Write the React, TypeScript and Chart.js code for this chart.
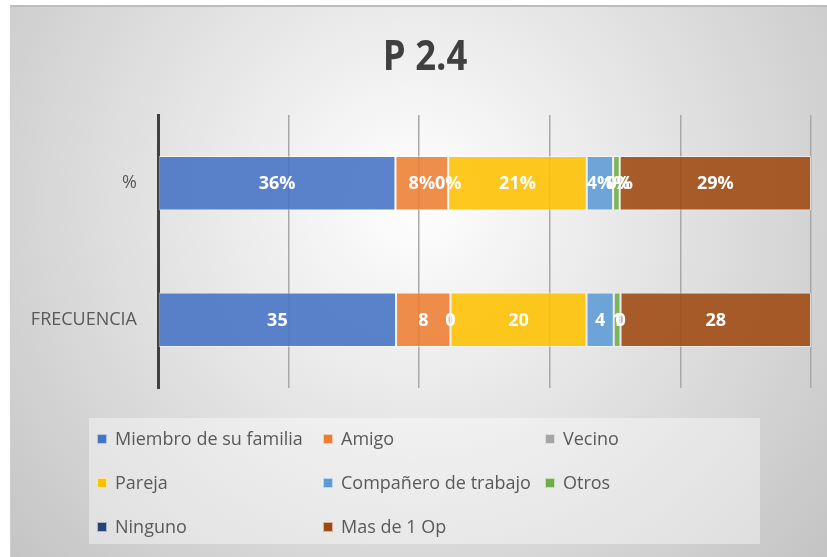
import React, { useEffect, useRef } from "react";
import { Chart, registerables } from "chart.js";

Chart.register(...registerables);

const TITLE = "P 2.4";
const categories = ["%", "FRECUENCIA"];
const seriesNames = [
  "Miembro de su familia",
  "Amigo",
  "Vecino",
  "Pareja",
  "Compañero de trabajo",
  "Otros",
  "Ninguno",
  "Mas de 1 Op",
];
const pctValues = [36, 8, 0, 21, 4, 1, 0, 29];
const freqValues = [35, 8, 0, 20, 4, 1, 0, 28];
const seriesColors = [
  "#4472C4",
  "#ED7D31",
  "#A5A5A5",
  "#FFC000",
  "#5B9BD5",
  "#70AD47",
  "#264478",
  "#9E480E",
];

const rows = [pctValues, freqValues];
const rowSums = rows.map((r) => r.reduce((a, b) => a + b, 0));

function hexToRgba(hex: string, a: number) {
  const n = parseInt(hex.slice(1), 16);
  return `rgba(${(n >> 16) & 255},${(n >> 8) & 255},${n & 255},${a})`;
}

const bgPlugin = {
  id: "bgFrame",
  beforeDraw(chart: any) {
    const { ctx, width, height } = chart;
    ctx.save();
    ctx.fillStyle = "#ffffff";
    ctx.fillRect(0, 0, width, height);
    const g = ctx.createRadialGradient(414, 200, 0, 414, 200, 560);
    g.addColorStop(0, "#ffffff");
    g.addColorStop(1, "#c2c2c2");
    ctx.fillStyle = g;
    ctx.fillRect(10, 5, width - 10, height - 5);
    ctx.fillStyle = "#bdbdbd";
    ctx.fillRect(10, 5, width - 10, 2);
    ctx.fillStyle = "#cfcfcf";
    ctx.fillRect(10, 5, 1, height - 5);
    // legend box
    ctx.fillStyle = "rgba(255,255,255,0.4)";
    ctx.fillRect(89, 418, 671, 126);
    ctx.restore();
  },
  afterDraw(chart: any) {
    const { ctx } = chart;
    ctx.save();
    // title
    ctx.fillStyle = "#404040";
    ctx.font = "bold 41px 'Liberation Sans Narrow', 'Open Sans', sans-serif";
    ctx.textAlign = "center";
    ctx.textBaseline = "alphabetic";
    ctx.translate(425, 70);
    ctx.scale(0.89, 1);
    ctx.fillText(TITLE, 0, 0);
    ctx.restore();
    ctx.save();
    // legend
    const colX = [97, 323, 545];
    const rowY = [439, 483, 527];
    ctx.font = "18px 'Open Sans', sans-serif";
    ctx.textAlign = "left";
    ctx.textBaseline = "middle";
    seriesNames.forEach((name, i) => {
      const cx = colX[i % 3];
      const cy = rowY[Math.floor(i / 3)];
      ctx.fillStyle = seriesColors[i];
      ctx.fillRect(cx, cy - 5, 10, 10);
      ctx.strokeStyle = "rgba(255,255,255,0.6)";
      ctx.lineWidth = 1;
      ctx.strokeRect(cx + 0.5, cy - 4.5, 9, 9);
      ctx.fillStyle = "#595959";
      ctx.fillText(name, cx + 18, cy + 1);
    });
    ctx.restore();
  },
};

const labelPlugin = {
  id: "segLabels",
  afterDatasetsDraw(chart: any) {
    const { ctx } = chart;
    ctx.save();
    ctx.font = "bold 18px 'Open Sans', sans-serif";
    ctx.fillStyle = "#ffffff";
    ctx.textAlign = "center";
    ctx.textBaseline = "middle";
    chart.data.datasets.forEach((ds: any, di: number) => {
      const meta = chart.getDatasetMeta(di);
      meta.data.forEach((el: any, ri: number) => {
        const raw = rows[ri][di];
        const txt = ri === 0 ? `${raw}%` : `${raw}`;
        const p = el.getCenterPoint();
        ctx.fillText(txt, p.x, p.y + 1);
      });
    });
    ctx.restore();
  },
};

export default function App() {
  const ref = useRef<HTMLCanvasElement | null>(null);
  useEffect(() => {
    if (!ref.current) return;
    const datasets = seriesNames.map((name, si) => ({
      label: name,
      data: rows.map((r, ri) => (r[si] / rowSums[ri]) * 100),
      backgroundColor: hexToRgba(seriesColors[si], 0.88),
      borderColor: "rgba(255,255,255,0.55)",
      borderWidth: 1,
      borderSkipped: false,
      barPercentage: 0.4,
      categoryPercentage: 1,
    }));
    const chart = new Chart(ref.current, {
      type: "bar",
      data: { labels: categories, datasets },
      options: {
        indexAxis: "y",
        animation: false,
        responsive: false,
        devicePixelRatio: 1,
        layout: { padding: { left: 0, top: 115, right: 16, bottom: 169 } },
        plugins: {
          legend: { display: false },
          title: { display: false },
          tooltip: { enabled: false },
        },
        scales: {
          x: {
            stacked: true,
            min: 0,
            max: 100,
            ticks: { display: false, stepSize: 20 },
            grid: { color: "#a8a8a8", lineWidth: 1.5, drawTicks: false },
            border: { display: false },
            afterFit: (s: any) => {
              s.height = 0;
            },
          },
          y: {
            stacked: true,
            grid: { display: false, drawTicks: false },
            border: { display: true, color: "#404040", width: 3 },
            ticks: {
              color: "#595959",
              font: { family: "'Open Sans', sans-serif", size: 18 },
              padding: 21,
            },
            afterFit: (s: any) => {
              s.width = 158;
            },
          },
        },
      },
      plugins: [bgPlugin, labelPlugin],
    });
    return () => chart.destroy();
  }, []);
  return (
    <div style={{ position: "absolute", left: 0, top: 0, width: 827, height: 557 }}>
      <canvas ref={ref} width={827} height={557} style={{ display: "block" }} />
    </div>
  );
}
